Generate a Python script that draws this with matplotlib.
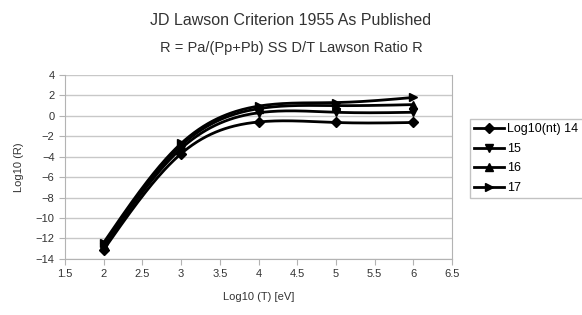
import matplotlib
matplotlib.use("Agg")
import matplotlib.pyplot as plt
import numpy as np

plt.rcParams['font.family'] = ['Liberation Sans', 'DejaVu Sans']

log_t = [2, 3, 4, 5, 6]
labels = ["Log10(nt) 14", "15", "16", "17"]
r_14 = [-13.1, -3.7, -0.6, -0.65, -0.65]
r_15 = [-12.8, -3.2, 0.3, 0.35, 0.35]
r_16 = [-12.6, -2.9, 0.7, 1.0, 1.1]
r_17 = [-12.4, -2.7, 0.95, 1.3, 1.8]
markers = ["D", "v", "^", ">"]


def spline(x, y, n=200):
    # natural cubic spline, like the smoothed lines of the spreadsheet
    x = np.asarray(x, float)
    y = np.asarray(y, float)
    h = np.diff(x)
    k = len(x)
    A = np.zeros((k, k))
    b = np.zeros(k)
    A[0, 0] = A[-1, -1] = 1
    for i in range(1, k - 1):
        A[i, i - 1] = h[i - 1]
        A[i, i] = 2 * (h[i - 1] + h[i])
        A[i, i + 1] = h[i]
        b[i] = 6 * ((y[i + 1] - y[i]) / h[i] - (y[i] - y[i - 1]) / h[i - 1])
    m = np.linalg.solve(A, b)
    xs = np.linspace(x[0], x[-1], n)
    idx = np.clip(np.searchsorted(x, xs) - 1, 0, k - 2)
    t = xs - x[idx]
    hi = h[idx]
    a = y[idx]
    bb = (y[idx + 1] - y[idx]) / hi - hi * (2 * m[idx] + m[idx + 1]) / 6
    c = m[idx] / 2
    d = (m[idx + 1] - m[idx]) / (6 * hi)
    return xs, a + bb * t + c * t ** 2 + d * t ** 3


fig = plt.figure(figsize=(5.82, 3.15), dpi=100)
ax = fig.add_axes([0.1117, 0.178, 0.665, 0.584])

for ys, mk, lab in zip([r_14, r_15, r_16, r_17], markers, labels):
    xs, sm = spline(log_t, ys)
    ms = 5 if mk == "D" else 6
    ax.plot(xs, sm, color='black', lw=2.0, zorder=3)
    ax.plot(log_t, ys, linestyle='none', marker=mk, ms=ms,
            color='black', zorder=4)
    ax.plot([], [], color='black', lw=2.0, marker=mk, ms=ms, label=lab)

ax.set_xlim(1.5, 6.5)
ax.set_ylim(-14, 4)
ax.set_xticks(np.arange(1.5, 6.51, 0.5))
ax.set_xticklabels(["1.5", "2", "2.5", "3", "3.5", "4", "4.5", "5", "5.5", "6", "6.5"])
ax.set_yticks(np.arange(-14, 4.1, 2))
ax.yaxis.grid(True, color='#c8c8c8', lw=1)
ax.spines['top'].set_visible(False)
for s in ['left', 'bottom', 'right']:
    ax.spines[s].set_color('#b3b3b3')
ax.tick_params(colors='#b3b3b3', labelcolor='#333333', labelsize=8, length=4)
ax.set_xlabel("Log10 (T) [eV]", fontsize=8, color='#333333', labelpad=9)
ax.set_ylabel("Log10 (R)", fontsize=8, color='#333333', labelpad=8)

fig.text(0.5, 0.935, "JD Lawson Criterion 1955 As Published", ha='center',
         va='center', fontsize=11.5, color='#333333')
fig.text(0.5, 0.848, "R = Pa/(Pp+Pb) SS D/T Lawson Ratio R", ha='center',
         va='center', fontsize=10.5, color='#333333')

# legend box runs past the right edge of the figure, as in the original
leg = fig.legend(loc='upper left', bbox_to_anchor=(0.8076, 0.6222, 0.3, 0),
                 mode='expand', borderaxespad=0, fontsize=9, frameon=True,
                 fancybox=False, handlelength=2.4, labelspacing=0.6,
                 handletextpad=0.2, borderpad=0.35)
leg.get_frame().set_edgecolor('#b3b3b3')
leg.get_frame().set_linewidth(1)

fig.savefig("out.png", dpi=100)
